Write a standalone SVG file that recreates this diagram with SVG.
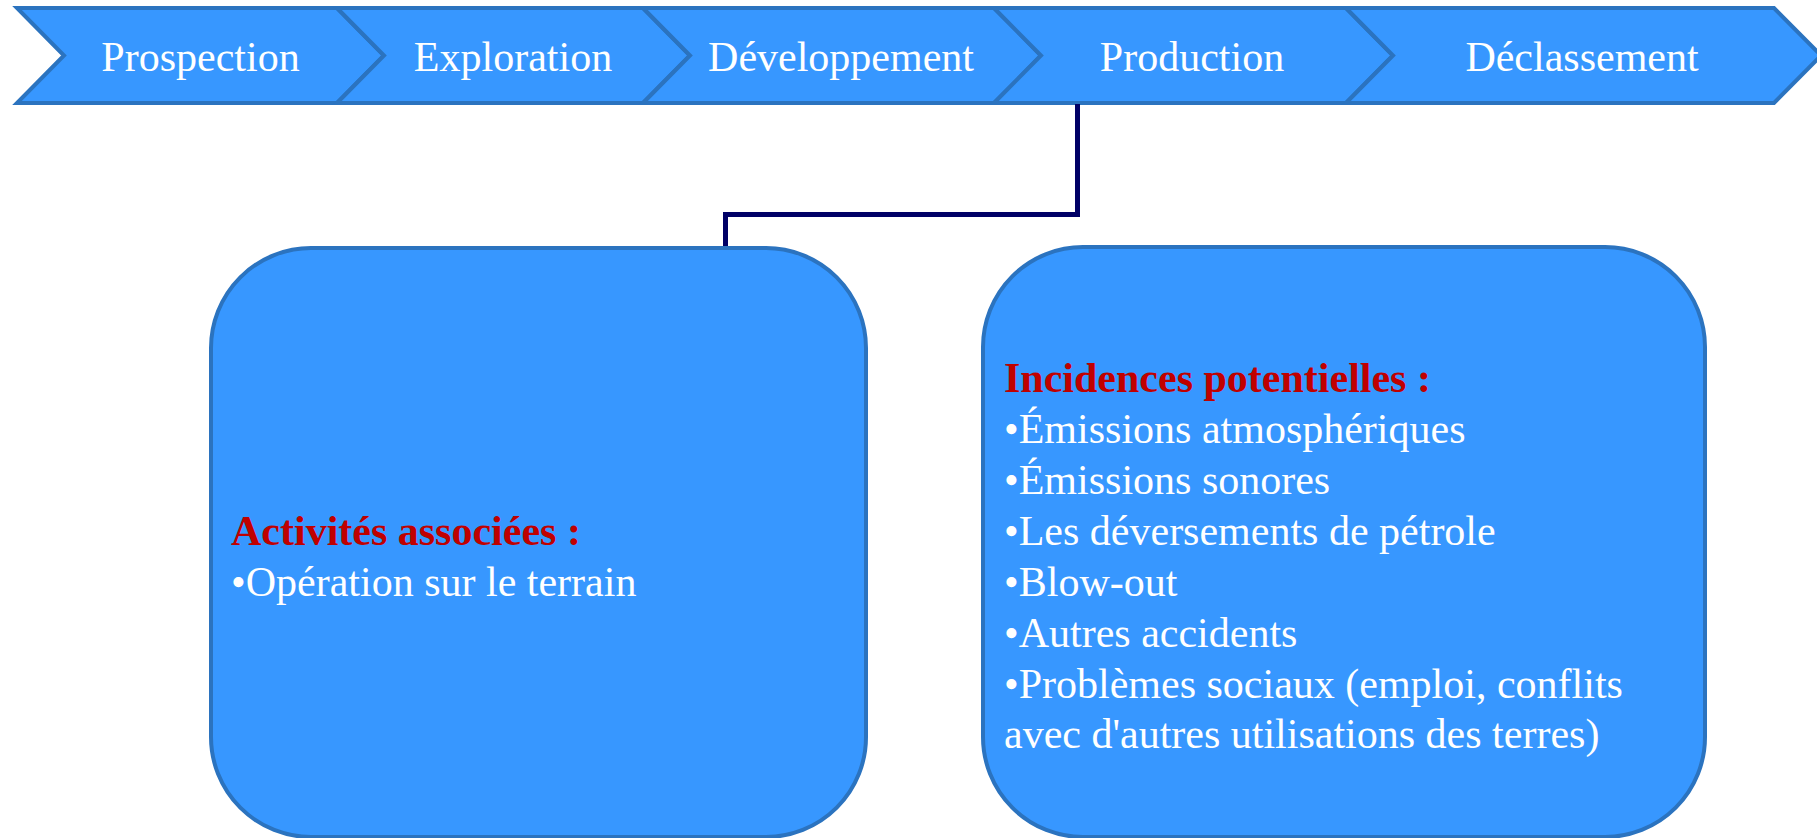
<svg xmlns="http://www.w3.org/2000/svg" width="1817" height="838" viewBox="0 0 1817 838">
<style>
.shape{fill:#3797FF;stroke:#2B73BF;stroke-width:4;stroke-linejoin:miter}
.lbl{font-family:"Liberation Serif","Times New Roman",serif;font-size:42px;fill:#FFFFFF}
.mid{text-anchor:middle}
.head{font-weight:bold;fill:#C00000}
.conn{fill:none;stroke:#000066;stroke-width:5}
</style>
<rect width="1817" height="838" fill="#FFFFFF"/>
<g id="chevron-prospection">
<polygon class="shape" points="17,8 337,8 384,55.5 337,103 17,103 64,55.5"/>
<text class="lbl mid" x="200.5" y="71">Prospection</text>
</g>
<g id="chevron-exploration">
<polygon class="shape" points="337,8 643,8 690,55.5 643,103 337,103 384,55.5"/>
<text class="lbl mid" x="513" y="71">Exploration</text>
</g>
<g id="chevron-developpement">
<polygon class="shape" points="643,8 994,8 1041,55.5 994,103 643,103 690,55.5"/>
<text class="lbl mid" x="841" y="71">Développement</text>
</g>
<g id="chevron-production">
<polygon class="shape" points="994,8 1346,8 1393,55.5 1346,103 994,103 1041,55.5"/>
<text class="lbl mid" x="1192" y="71">Production</text>
</g>
<g id="chevron-declassement">
<polygon class="shape" points="1346,8 1774,8 1821,55.5 1774,103 1346,103 1393,55.5"/>
<text class="lbl mid" x="1582" y="71">Déclassement</text>
</g>
<g id="connectors">
<path class="conn" d="M1077.5,104 V214.5 H725.5 V248"/>
</g>
<g id="box-activites">
<rect class="shape" x="211" y="248" width="655" height="589" rx="100" ry="100"/>
<text class="lbl head" x="231" y="545">Activités associées :</text>
<text class="lbl" x="231" y="596">•Opération sur le terrain</text>
</g>
<g id="box-incidences">
<rect class="shape" x="983" y="247" width="722" height="590" rx="100" ry="100"/>
<text class="lbl head" x="1004" y="392">Incidences potentielles :</text>
<text class="lbl" x="1004" y="443">•Émissions atmosphériques</text>
<text class="lbl" x="1004" y="494">•Émissions sonores</text>
<text class="lbl" x="1004" y="545">•Les déversements de pétrole</text>
<text class="lbl" x="1004" y="596">•Blow-out</text>
<text class="lbl" x="1004" y="647">•Autres accidents</text>
<text class="lbl" x="1004" y="698">•Problèmes sociaux (emploi, conflits</text>
<text class="lbl" x="1004" y="748">avec d'autres utilisations des terres)</text>
</g>
</svg>
